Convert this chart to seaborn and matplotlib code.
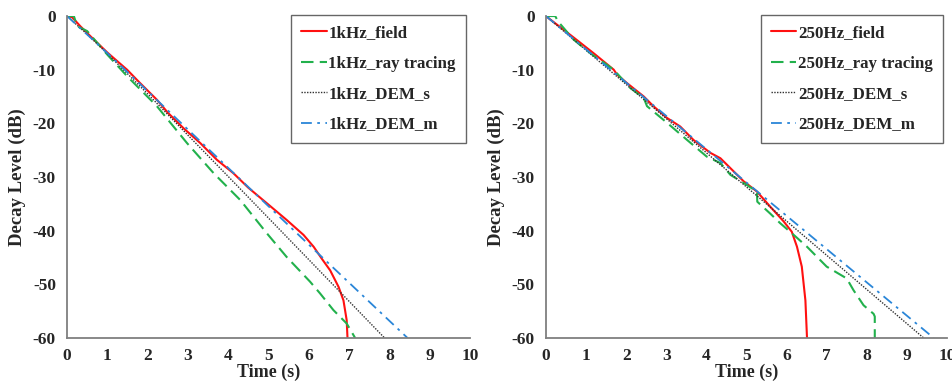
import matplotlib
matplotlib.use("Agg")
import matplotlib.pyplot as plt
import seaborn as sns
import pandas as pd

# 1 kHz decay curves (time in s, level in dB)
t_1k_field = [0, 0.12, 0.21, 0.33, 0.6, 1.0, 1.49, 1.8, 2.23, 2.5, 2.89, 3.31, 3.72, 4.13, 4.5, 4.96, 5.45, 5.87, 6.12, 6.32, 6.53, 6.74, 6.86, 6.94, 6.96]
db_1k_field = [0, -0.2, -0.9, -1.9, -3.9, -6.8, -10.0, -12.4, -15.6, -18.0, -20.9, -23.7, -26.8, -29.3, -32.0, -34.9, -38.0, -40.8, -43.0, -45.2, -47.4, -50.5, -53.0, -56.7, -60.0]

t_1k_ray = [0, 0.17, 0.25, 0.5, 1.0, 1.49, 2.23, 2.98, 3.64, 4.3, 4.96, 5.45, 6.03, 6.28, 6.61, 6.94, 7.15]
db_1k_ray = [0, 0, -1.9, -2.8, -7.2, -11.2, -16.8, -23.7, -29.3, -34.3, -40.5, -44.9, -49.5, -51.7, -54.8, -57.3, -60.0]

t_1k_dem_s = [0, 0.5, 1.0, 2.0, 4.0, 6.0, 7.88]
db_1k_dem_s = [0, -3.4, -7.0, -14.5, -29.9, -45.4, -60.0]

t_1k_dem_m = [0, 1.0, 2.0, 4.0, 6.0, 8.45]
db_1k_dem_m = [0, -6.9, -14.0, -28.3, -42.6, -60.0]

# 250 Hz decay curves
t_250_field = [0, 0.1, 0.69, 1.2, 1.69, 1.77, 2.02, 2.44, 2.68, 3.02, 3.35, 3.68, 4.1, 4.35, 4.93, 5.26, 5.59, 5.93, 6.13, 6.26, 6.38, 6.47, 6.51]
db_250_field = [0, -0.6, -4.0, -7.0, -10.0, -10.9, -12.5, -15.0, -16.8, -19.0, -20.6, -23.1, -25.5, -26.5, -30.8, -32.7, -35.5, -38.3, -40.2, -43.0, -46.7, -53.0, -60.0]

t_250_ray = [0, 0.23, 0.3, 0.69, 1.1, 1.69, 2.1, 2.44, 2.52, 3.02, 3.52, 4.01, 4.35, 4.6, 5.01, 5.26, 5.27, 5.59, 5.84, 6.18, 6.51, 7.0, 7.5, 7.67, 7.92, 8.17, 8.2, 8.2]
db_250_ray = [0, 0, -1.0, -4.4, -6.9, -10.0, -13.4, -15.3, -16.8, -19.9, -23.1, -26.2, -27.4, -29.6, -31.5, -32.7, -34.6, -36.8, -38.6, -40.8, -43.0, -46.7, -48.9, -51.1, -53.9, -55.5, -56.0, -60.0]

t_250_dem_s = [0, 9.42]
db_250_dem_s = [0, -60.0]

t_250_dem_m = [0, 9.67]
db_250_dem_m = [0, -60.0]

x_ticks = list(range(0, 11))
y_ticks = [0, -10, -20, -30, -40, -50, -60]

sns.set_theme(style="white")
FONT = "Liberation Serif"
plt.rcParams["font.family"] = [FONT, "DejaVu Serif"]
plt.rcParams["font.weight"] = "bold"
plt.rcParams["axes.unicode_minus"] = False

fig = plt.figure(figsize=(9.52, 3.81), dpi=100)
ax1 = fig.add_axes([0.0704, 0.1129, 0.4233, 0.845])
ax2 = fig.add_axes([0.5735, 0.1129, 0.4212, 0.845])

RED = "#ff1010"
GREEN = "#22b14c"
BLACK = "#303030"
BLUE = "#2a86d8"


def draw(ax, prefix, field, ray, dem_s, dem_m):
    series = [
        (field, f"{prefix}_field", RED, "-", 1.5),
        (ray, f"{prefix}_ray tracing", GREEN, (0, (6, 3)), 1.5),
        (dem_s, f"{prefix}_DEM_s", BLACK, (0, (1, 1)), 1.0),
        (dem_m, f"{prefix}_DEM_m", BLUE, (0, (6, 3, 1.5, 3)), 1.3),
    ]
    for (t, db), label, color, ls, lw in series:
        df = pd.DataFrame({"t": t, "db": db})
        sns.lineplot(data=df, x="t", y="db", ax=ax, color=color, linestyle=ls,
                     linewidth=lw, label=label, sort=False, estimator=None)
    ax.set_xlim(0, 10)
    ax.set_ylim(-60, 0)
    ax.set_xticks(x_ticks)
    ax.set_yticks(y_ticks)
    ax.tick_params(axis="x", length=0, pad=7)
    ax.tick_params(axis="y", length=0, pad=8)
    for lab in ax.get_xticklabels() + ax.get_yticklabels():
        lab.set_fontweight("bold")
        lab.set_fontsize(12.5)
        lab.set_family(FONT)
    ax.set_xlabel("Time (s)", fontsize=13, fontweight="bold", family=FONT, labelpad=0)
    ax.set_ylabel("Decay Level (dB)", fontsize=13.5, fontweight="bold", family=FONT, labelpad=5)
    for side in ["top", "right"]:
        ax.spines[side].set_visible(False)
    for side in ["left", "bottom"]:
        ax.spines[side].set_color("#7f7f7f")
        ax.spines[side].set_linewidth(1.3)
    leg = ax.legend(loc="upper right", bbox_to_anchor=(0.99, 1.003),
                    prop={"weight": "bold", "size": 12.2, "family": FONT},
                    frameon=True, fancybox=False,
                    handlelength=1.5, handletextpad=0.1, labelspacing=0.85,
                    borderpad=0.6, borderaxespad=0.0)
    leg.get_frame().set_edgecolor("#404040")
    leg.get_frame().set_linewidth(1.0)


draw(ax1, "1kHz", (t_1k_field, db_1k_field), (t_1k_ray, db_1k_ray),
     (t_1k_dem_s, db_1k_dem_s), (t_1k_dem_m, db_1k_dem_m))
draw(ax2, "250Hz", (t_250_field, db_250_field), (t_250_ray, db_250_ray),
     (t_250_dem_s, db_250_dem_s), (t_250_dem_m, db_250_dem_m))

fig.savefig("out.png", dpi=100)
